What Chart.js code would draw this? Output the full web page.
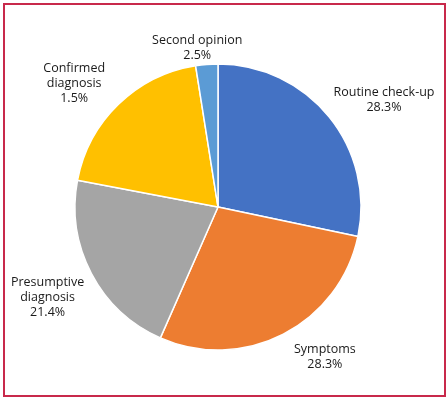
<!DOCTYPE html>
<html>
<head>
<meta charset="utf-8">
<script src="https://cdn.jsdelivr.net/npm/chart.js@4"></script>
<style>
  html, body { margin: 0; padding: 0; background: #fff; }
  #wrap { position: relative; width: 448px; height: 414px; }
  #frame {
    position: absolute; left: 3px; top: 3px; width: 439px; height: 390px;
    border: 2px solid #c8294b; pointer-events: none;
  }
  canvas { position: absolute; left: 0; top: 0; }
</style>
</head>
<body>
<div id="wrap">
  <canvas id="pie" width="448" height="414"></canvas>
  <div id="frame"></div>
</div>
<script>
const categories = ['Routine check-up', 'Symptoms', 'Presumptive diagnosis', 'Confirmed diagnosis', 'Second opinion'];
const values = [28.3, 28.3, 21.4, 19.5, 2.5];
const labelText = [
    ['Routine check-up', '28.3%'],
    ['Symptoms', '28.3%'],
    ['Presumptive', 'diagnosis', '21.4%'],
    ['Confirmed', 'diagnosis', '1.5%'],
    ['Second opinion', '2.5%']
];
const colors = ['#4472c4', '#ed7d31', '#a5a5a5', '#ffc000', '#5b9bd5'];

// label placement: distance outside the rim, then a small nudge
const labelGap = 45;
const labelNudge = [[20, 11], [21, -17], [-4, 3], [-13, 11], [-6, 28]];

const outsideLabels = {
    id: 'outsideLabels',
    afterDraw(chart) {
        const ctx = chart.ctx;
        const arcs = chart.getDatasetMeta(0).data;
        ctx.save();
        ctx.font = '12.5px "Open Sans"';
        ctx.fillStyle = '#1a1a1a';
        ctx.textAlign = 'center';
        ctx.textBaseline = 'middle';
        const lh = 15;
        arcs.forEach((arc, i) => {
            const a = (arc.startAngle + arc.endAngle) / 2;
            const r = arc.outerRadius + labelGap;
            const cx = arc.x + Math.cos(a) * r + labelNudge[i][0];
            const cy = arc.y + Math.sin(a) * r + labelNudge[i][1];
            const lines = labelText[i];
            const top = cy - (lines.length - 1) * lh / 2;
            lines.forEach((t, k) => ctx.fillText(t, cx, top + k * lh));
        });
        ctx.restore();
    }
};

new Chart(document.getElementById('pie'), {
    type: 'pie',
    data: {
        labels: categories,
        datasets: [{
            data: values,
            backgroundColor: colors,
            borderColor: '#ffffff',
            borderWidth: 1.5
        }]
    },
    options: {
        responsive: false,
        animation: false,
        radius: 143,
        layout: { padding: { left: 60, right: 72, top: 50, bottom: 50 } },
        plugins: {
            legend: { display: false },
            tooltip: { enabled: false }
        }
    },
    plugins: [outsideLabels]
});
</script>
</body>
</html>
